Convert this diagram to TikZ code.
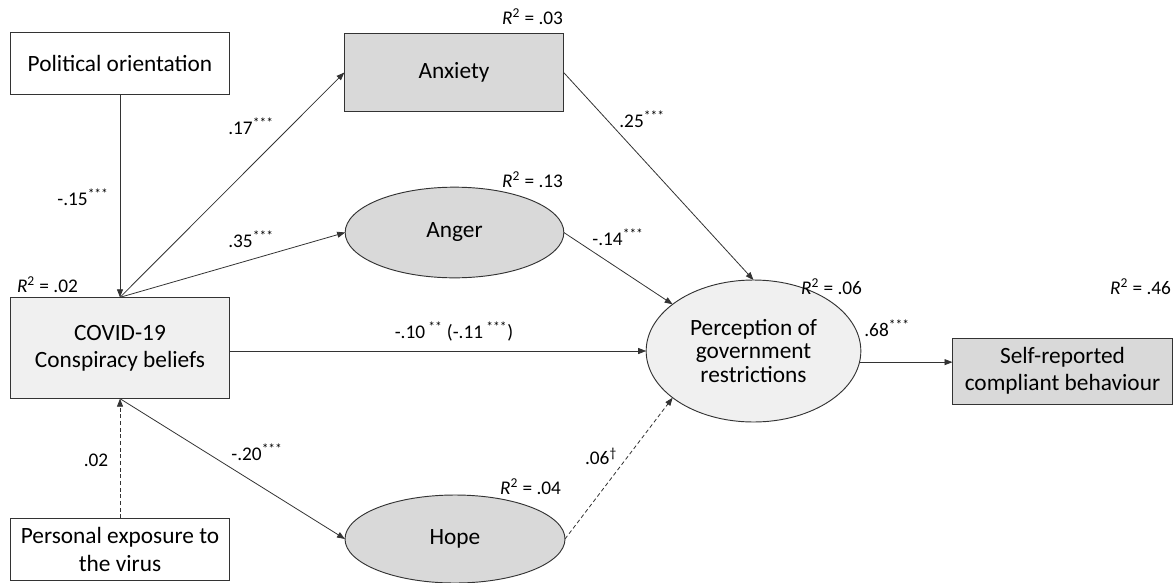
\documentclass[tikz,border=0pt]{standalone}
\usepackage{fontspec}
\setmainfont{Carlito}
\usetikzlibrary{shapes.geometric,arrows.meta}
\definecolor{lightfill}{gray}{0.94}
\definecolor{darkfill}{gray}{0.85}
\definecolor{edge}{gray}{0.2}

\begin{document}
\begin{tikzpicture}[x=0.75pt,y=-0.75pt,
  every node/.style={font=\fontsize{17.5}{20.5}\selectfont, outer sep=0pt},
  box/.style={draw=edge, line width=0.7pt, minimum width=164.5pt, inner sep=2pt, align=center},
  oval/.style={ellipse, draw=edge, line width=0.7pt, fill=darkfill, inner sep=1pt},
  coef/.style={font=\fontsize{14.5}{16}\selectfont, inner sep=0pt},
  path/.style={draw=edge, line width=0.6pt, -{Triangle[length=6pt,width=4.5pt]}},
  dashpath/.style={path, dash pattern=on 3pt off 2pt}]
\useasboundingbox (0,0) rectangle (1174,582);

% observed and latent variables
\node[box, minimum height=47pt] (PO) at (120,63.5) {Political orientation};
\node[box, minimum height=76pt, fill=lightfill] (CB) at (120,348) {COVID-19\\Conspiracy beliefs};
\node[box, minimum height=47pt] (PE) at (120,549.5) {Personal exposure to\\the virus};
\node[box, minimum height=59pt, fill=darkfill] (AX) at (454,72.5) {Anxiety};
\node[oval, minimum width=164pt, minimum height=68pt] (AN) at (454.5,232.5) {Anger};
\node[oval, minimum width=165pt, minimum height=66pt] (HO) at (455,539) {Hope};
\node[oval, fill=lightfill, minimum width=161pt, minimum height=106.5pt, align=center,
  font=\fontsize{17.5}{17.5}\selectfont] (PG) at (753.5,351) {Perception of\\government\\restrictions};
\node[box, minimum width=165pt, minimum height=49.5pt, fill=darkfill] (SR) at (1062.5,371) {Self-reported\\compliant behaviour};

% explained variance
\node[coef, anchor=west] (r2CB) at (17,285) {\textit{R}\textsuperscript{2} = .02};
\node[coef, anchor=east] (r2AX) at (563,17) {\textit{R}\textsuperscript{2} = .03};
\node[coef, anchor=east] (r2AN) at (563,180) {\textit{R}\textsuperscript{2} = .13};
\node[coef, anchor=east] (r2HO) at (561,487) {\textit{R}\textsuperscript{2} = .04};
\node[coef, anchor=east] (r2PG) at (862,287) {\textit{R}\textsuperscript{2} = .06};
\node[coef, anchor=east] (r2SR) at (1171,287) {\textit{R}\textsuperscript{2} = .46};

% path coefficients
\node[coef] (cPO) at (83,197) {-.15\textsuperscript{***}};
\node[coef] (cAX) at (251,126) {.17\textsuperscript{***}};
\node[coef] (cAN) at (251,239) {.35\textsuperscript{***}};
\node[coef] (cPE) at (96,460) {.02};
\node[coef] (cHO) at (257,452) {-.20\textsuperscript{***}};
\node[coef] (cAXPG) at (642,119) {.25\textsuperscript{***}};
\node[coef] (cANPG) at (618,237) {-.14\textsuperscript{***}};
\node[coef] (cCBPG) at (454,332) {-.10\,\textsuperscript{**} (-.11\,\textsuperscript{***})};
\node[coef] (cHOPG) at (601,456) {.06\textsuperscript{†}};
\node[coef] (cPGSR) at (887,328) {.68\textsuperscript{***}};

% paths
\draw[path] (PO) -- (CB);
\draw[path] (CB.north) -- (AX.west);
\draw[path] (CB.north) -- (AN.west);
\draw[path] (CB.east |- PG.west) -- (PG.west);
\draw[dashpath] (PE) -- (CB);
\draw[path] (CB.south) -- (HO.west);
\draw[path] (AX.east) -- (PG.north);
\draw[path] (AN.east) -- (PG.150);
\draw[dashpath] (HO.east) -- (PG.210);
\draw[path] (PG.-6) -- (PG.-6 -| SR.west);
\end{tikzpicture}
\end{document}
